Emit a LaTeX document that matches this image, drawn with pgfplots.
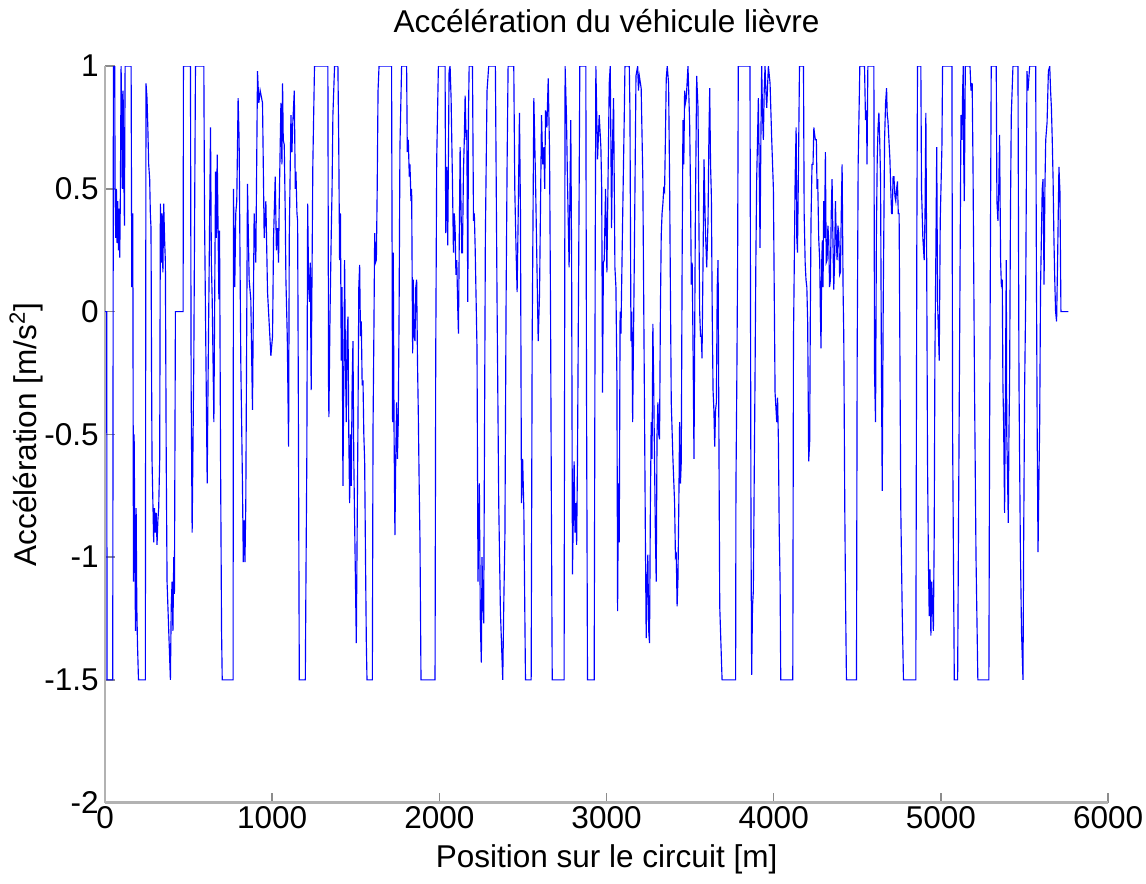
\documentclass[border=0pt]{standalone}
\usepackage{fontspec}
\setmainfont{Liberation Sans}
\usepackage{pgfplots}
\pgfplotsset{compat=1.18}

\begin{document}
\begin{tikzpicture}
\begin{axis}[
    scale only axis,
    width=350pt, height=257pt,
    xmin=0, xmax=6000, ymin=-2, ymax=1,
    axis x line*=bottom, axis y line*=left,
    axis line style={-, draw=black!30, line width=0.8pt},
    tick align=inside,
    major tick length=3.5pt,
    tick style={black!45, line width=0.5pt},
    xtick={0,1000,2000,3000,4000,5000,6000},
    ytick={-2,-1.5,-1,-0.5,0,0.5,1},
    scaled ticks=false,
    /pgf/number format/1000 sep={},
    /pgf/number format/assume math mode=true,
    ticklabel style={font=\fontsize{11}{13}\selectfont},
    xticklabel style={inner sep=1pt},
    yticklabel style={inner sep=2pt},
    label style={font=\fontsize{11}{13}\selectfont},
    title style={font=\fontsize{11}{13}\selectfont, yshift=2pt},
    title={Accélération du véhicule lièvre},
    xlabel={Position sur le circuit [m]},
    ylabel={Accélération [m/s\textsuperscript{2}]},
    xlabel style={yshift=-1pt},
    ylabel style={yshift=-5pt},
]
\addplot[blue, line width=0.4pt] coordinates {
(0,0) (10,0) (12,-1.5) (46,-1.5) (50,1) (58,1) (60,0.5) (64,0.3) (68,0.5) (72,0.28) (76,0.45) (80,0.25) (84,0.42) (88,0.22) (92,0.5) (96,1) (100,0.8) (104,0.5) (108,0.9) (112,0.6) (116,0.35) (120,1) (156,1) (160,0.1) (166,0.4) (170,-1.1) (174,-0.5) (178,-0.9) (182,-1.3) (186,-0.8) (190,-1.2) (194,-1.35) (200,-1.5) (241,-1.5)
(245,0.93) (251,0.87) (256,0.75) (261,0.6) (267,0.54) (271,0.4) (275,0.34) (278,-0.2) (281,-0.6) (291,-0.94) (296,-0.8) (301,-0.9) (306,-0.82) (311,-0.95) (316,-0.85) (321,-0.8) (327,-0.6) (331,0.44) (336,0.2) (341,0.4) (346,0.16) (351,0.44) (356,0.3) (361,0.2) (366,-0.6) (371,-1.1) (381,-1.3) (391,-1.5) (396,-1.2) (401,-1.1) (406,-1.3) (411,-1.0) (415,-1.15) (421,0) (467,0) (469,1) (511,1)
(515,-0.3) (521,-0.9) (531,-0.2) (541,1) (591,1) (595,0.4) (611,-0.7) (616,-0.3) (621,0.05) (631,0.75) (636,0.2) (641,0.05) (651,-0.45) (661,0.57) (666,0.3) (671,0.64) (681,0.05) (685,0.33) (691,-0.6) (697,-1.3) (701,-1.5) (766,-1.5) (768,0.5) (776,0.1) (782,0.4) (788,0.45) (796,0.87) (802,0.7) (812,-0.2) (822,-0.7) (827,-1.02) (832,-0.85) (837,-1.02) (842,-0.78) (852,0.52) (862,0.13) (872,0.05) (882,-0.4) (892,0.4) (902,0.2) (912,0.98) (920,0.85) (928,0.9) (942,0.85) (952,0.3) (962,0.45) (972,0.08) (982,-0.05) (992,-0.18)
(1002,-0.1) (1008,0.3) (1018,0.55) (1025,0.25) (1032,0.34) (1038,0.2) (1042,0.44) (1052,0.85) (1058,0.6) (1062,0.93) (1066,0.7) (1072,0.68) (1078,0.4) (1082,0.13) (1090,-0.1) (1098,-0.55) (1102,0.3) (1108,0.6) (1112,0.8) (1118,0.65) (1122,0.75) (1132,0.9) (1138,0.5) (1142,0.57) (1148,0.4) (1152,0.37) (1156,-0.3) (1162,-1.5) (1198,-1.5) (1202,-1.07) (1207,-0.6) (1212,0.44) (1218,0.1) (1223,0.04) (1228,0.2) (1233,-0.32) (1243,0.6) (1253,1) (1333,1)
(1337,-0.3) (1339,-0.43) (1346,0) (1353,0.31) (1358,0.5) (1363,0.8) (1373,1) (1393,1) (1398,0.68) (1403,0.21) (1408,0.4) (1413,-0.2) (1418,0.1) (1423,-0.71) (1428,-0.3) (1433,0.21) (1438,-0.2) (1443,-0.45) (1448,-0.1) (1453,-0.02) (1458,-0.5) (1463,-0.78) (1468,-0.5) (1473,-0.71) (1478,-0.3) (1483,-0.12) (1488,-0.6) (1493,-0.86) (1498,-1.1) (1503,-1.35) (1508,-0.9) (1513,-0.45) (1518,0.1) (1523,0.19) (1528,-0.1) (1533,-0.04) (1538,-0.3) (1543,-0.28) (1548,-0.5) (1553,-0.61) (1558,-1.0) (1563,-1.35) (1567,-1.5) (1599,-1.5)
(1603,-0.48) (1608,-0.1) (1613,0.32) (1618,0.2) (1623,0.21) (1628,0.5) (1633,0.9) (1639,1) (1714,1) (1720,-0.45) (1724,0.24) (1729,-0.5) (1734,-0.91) (1739,-0.6) (1744,-0.37) (1749,-0.6) (1754,-0.45) (1759,0) (1764,0.67) (1774,1) (1804,1) (1808,0.65) (1814,0.7) (1820,0.55) (1824,0.6) (1830,0.45) (1834,0.5) (1840,-0.17) (1844,0.13) (1849,-0.1) (1854,-0.12) (1859,0.1) (1864,0.13) (1869,-0.2) (1874,-0.42) (1879,-0.7) (1884,-0.94) (1890,-1.5) (1974,-1.5)
(1978,-0.2) (1984,0.62) (1994,1) (2034,1) (2038,0.32) (2044,0.59) (2050,0.27) (2058,0.98) (2064,1) (2070,0.87) (2078,0.54) (2084,0.24) (2089,0.4) (2094,0.34) (2099,0.15) (2104,0.21) (2110,0.01) (2114,-0.09) (2119,0.3) (2124,0.67) (2130,0.4) (2134,0.24) (2138,0.24) (2144,0.57) (2149,0.7) (2154,0.88) (2160,0.7) (2164,0.74) (2170,0.04) (2174,0.8) (2178,1) (2198,1)
(2204,0.37) (2209,0.4) (2214,0.26) (2225,-0.15) (2231,-1.1) (2239,-0.7) (2245,-1.27) (2251,-1.43) (2255,-1.0) (2259,-1.15) (2265,-1.27) (2270,-0.5) (2275,0.3) (2285,0.9) (2295,1) (2335,1) (2345,0.04) (2355,-0.78) (2365,-1.22) (2379,-1.5) (2385,-1.2) (2392,-0.91) (2399,0.04) (2405,0.6) (2411,1) (2445,1) (2451,0.5) (2459,0.24) (2465,0.08) (2471,0.37) (2479,0.81) (2485,0.4) (2491,-0.78) (2498,-0.6) (2505,-0.8) (2515,-1.5) (2549,-1.5)
(2555,-0.12) (2565,0.87) (2575,0.54) (2585,0.13) (2591,-0.12) (2599,0.07) (2611,0.8) (2618,0.6) (2625,0.67) (2630,0.5) (2635,0.82) (2643,0.75) (2651,0.95) (2659,0.65) (2665,0.0) (2670,-0.8) (2675,-1.5) (2746,-1.5) (2752,1) (2760,0.8) (2766,0.54) (2776,0.18) (2786,0.78) (2791,0.2) (2796,-1.07) (2806,-0.61) (2811,-0.9) (2816,-0.78) (2821,-0.95) (2826,-0.61) (2836,0.5) (2840,1) (2876,1) (2880,-0.3) (2886,-1.5) (2926,-1.5) (2932,0.2) (2936,1) (2946,0.62) (2956,0.8) (2966,0.67)
(2971,0.5) (2976,-0.33) (2981,0.2) (2986,0.21) (2994,0.5) (3002,0.16) (3010,0.6) (3016,0.93) (3022,1) (3030,0.34) (3036,0.7) (3042,0.87) (3050,0.18) (3056,0.1) (3062,-0.28) (3066,-1.22) (3071,-0.7) (3076,-0.94) (3081,0) (3086,-0.09) (3096,0.37) (3106,0.8) (3110,1) (3136,1) (3140,0.81) (3146,-0.12) (3151,0.0) (3156,-0.45) (3166,0.21) (3176,0.96) (3186,1) (3191,0.9) (3196,0.96) (3207,0.91) (3217,0.54)
(3227,-0.4) (3232,-0.9) (3237,-1.33) (3242,-1.1) (3247,-0.99) (3252,-1.3) (3257,-1.35) (3262,-0.8) (3267,-0.45) (3272,-0.6) (3277,-0.05) (3282,-0.3) (3287,-0.61) (3292,-0.9) (3297,-1.1) (3302,-0.5) (3307,-0.37) (3312,-0.5) (3317,-0.52) (3322,0) (3327,0.31) (3332,0.4) (3337,0.44) (3342,0.5) (3347,0.49) (3352,0.7) (3357,0.95) (3363,1) (3371,0.93) (3377,0.54)
(3387,-0.37) (3397,-0.6) (3407,-0.78) (3412,-1.0) (3417,-0.99) (3422,-1.2) (3427,-1.09) (3432,-0.8) (3437,-0.45) (3442,-0.7) (3447,-0.61) (3452,0.2) (3457,0.78) (3462,0.6) (3467,0.9) (3472,0.85) (3477,0.87) (3487,1) (3497,0.77) (3502,0.5) (3507,0.11) (3512,0.2) (3517,-0.12) (3523,-0.6) (3531,0.37) (3539,0.96) (3547,0.83) (3552,0.4) (3557,0.0) (3562,-0.1) (3567,-0.1) (3571,-0.19) (3577,0.2) (3583,0.62) (3591,0.34) (3599,0.18) (3607,0.37) (3612,0.7) (3617,0.91) (3622,0.6) (3627,0.47)
(3632,0.0) (3637,-0.32) (3642,-0.4) (3647,-0.55) (3652,-0.4) (3657,-0.37) (3662,0.1) (3667,0.21) (3672,-0.5) (3677,-1.2) (3691,-1.5) (3772,-1.5) (3774,-0.71) (3779,-0.3) (3784,0.21) (3788,1) (3858,1) (3864,-0.9) (3868,-1.48) (3873,-1.2) (3878,-1.14) (3883,-0.7) (3888,-0.28) (3893,0.2) (3898,0.54) (3903,0.7) (3908,0.87) (3913,0.6) (3918,0.26) (3923,0.7) (3928,1) (3933,0.8) (3938,0.7) (3943,0.9) (3948,1) (3953,0.9) (3958,0.83)
(3968,1) (3978,0.93) (3988,0.7) (3998,0.5) (4008,-0.33) (4018,-0.45) (4023,-0.35) (4028,-0.53) (4033,-0.9) (4038,-1.1) (4042,-1.5) (4114,-1.5) (4118,-0.12) (4123,0.2) (4128,0.54) (4134,0.75) (4138,0.3) (4142,0.24) (4148,0.59) (4154,1) (4178,1)
(4182,0.4) (4188,0.2) (4193,0.13) (4198,0.1) (4203,-0.04) (4209,-0.61) (4215,-0.53) (4219,0) (4223,0.37) (4229,0.6) (4235,0.6) (4240,0.75) (4243,0.73) (4249,0.7) (4255,0.7) (4259,0.5) (4263,0.54) (4269,0.3) (4275,0.21) (4279,0) (4283,-0.15) (4287,0.2) (4291,0.29) (4295,0.1) (4299,0.45) (4304,0.3) (4309,0.65) (4314,0.2) (4319,0.21) (4324,0.35) (4329,0.29) (4334,0.1) (4339,0.13) (4344,0.4) (4349,0.54) (4354,0.3) (4359,0.09) (4364,0.2) (4369,0.45) (4374,0.3) (4379,0.21) (4384,0.35) (4389,0.32) (4394,0.15) (4399,0.16) (4404,0.4) (4409,0.6) (4415,0.08) (4419,-0.1) (4425,-0.8) (4430,-1.2) (4435,-1.5) (4495,-1.5)
(4499,-0.2) (4505,0.6) (4510,0.8) (4515,1) (4543,1) (4549,0.78) (4555,0.82) (4558,0.6) (4563,1) (4599,1) (4603,-0.25) (4609,-0.45) (4614,0.3) (4619,0.62) (4624,0.75) (4629,0.81) (4634,0.7) (4639,0.54) (4644,-0.2) (4649,-0.73) (4655,0.04) (4663,0.7) (4669,0.85) (4675,0.91) (4679,0.8) (4683,0.78) (4689,0.7) (4695,0.62) (4700,0.5) (4705,0.4) (4709,0.4) (4714,0.55) (4719,0.55) (4725,0.47) (4730,0.45) (4735,0.5) (4740,0.53) (4745,0.4) (4750,0.4) (4755,-0.2) (4760,-0.8) (4768,-1.2) (4776,-1.5) (4850,-1.5)
(4856,0.3) (4860,1) (4880,1) (4884,0.5) (4892,0.3) (4900,0.21) (4905,0.4) (4910,0.81) (4915,0.2) (4920,-0.61) (4925,-1.0) (4930,-1.24) (4935,-1.05) (4940,-1.32) (4945,-1.1) (4950,-1.2) (4955,-1.3)
(4960,-0.9) (4964,-0.2) (4970,0.25) (4975,0.67) (4980,0.04) (4990,-0.2) (4996,0.37) (5006,0.67) (5010,1) (5066,1) (5070,-0.5) (5080,-1.5) (5100,-1.5) (5106,-0.8) (5113,0) (5120,0.8) (5126,0.7) (5130,0.9) (5134,1) (5137,0.6) (5140,0.45) (5146,1) (5174,1) (5180,0.9) (5187,0.93) (5192,0.6) (5196,0.2) (5201,-0.3) (5210,-1.0) (5221,-1.5) (5287,-1.5)
(5291,-0.53) (5301,1) (5331,1) (5335,0.45) (5341,0.37) (5346,0.5) (5351,0.72) (5357,0.21) (5362,0.1) (5367,0.13) (5371,-0.3) (5375,-0.45) (5381,-0.82) (5386,-0.3) (5391,0.21) (5394,-0.5) (5397,-0.61) (5403,-0.86) (5407,-0.5) (5411,-0.28) (5416,0.4) (5421,0.8) (5431,1) (5461,1) (5467,-0.28) (5475,-0.94) (5482,-1.3) (5491,-1.5)
(5495,-0.94) (5501,-0.3) (5507,0.04) (5515,0.98) (5521,0.9) (5531,1) (5567,1) (5571,0.21) (5576,-0.5) (5581,-0.98) (5586,-0.7) (5591,-0.45) (5596,0.1) (5601,0.3) (5606,0.5) (5611,0.54) (5617,0.11) (5622,0.5) (5627,0.7) (5635,0.77) (5643,0.98) (5651,1) (5656,0.9) (5661,0.83) (5666,0.7) (5671,0.54) (5676,0.3) (5681,0.13) (5686,0.0) (5692,-0.04) (5698,0.21) (5706,0.59) (5712,0.49) (5718,0) (5762,0)
};
\end{axis}
\end{tikzpicture}
\end{document}
